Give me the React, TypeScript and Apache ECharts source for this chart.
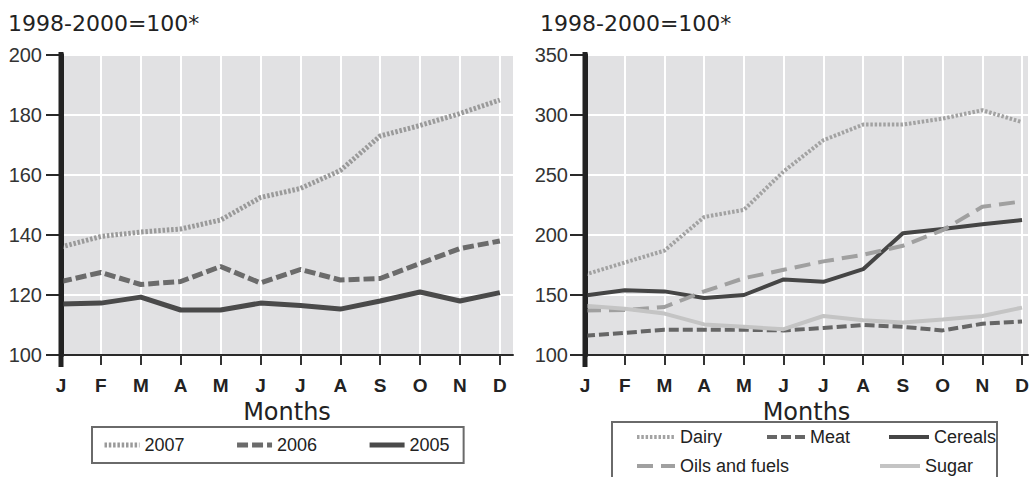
import React, { useEffect, useRef } from 'react';
import * as echarts from 'echarts';

const months = ['J', 'F', 'M', 'A', 'M', 'J', 'J', 'A', 'S', 'O', 'N', 'D'];
const monthIdx = [0, 1, 2, 3, 4, 5, 6, 7, 8, 9, 10, 11];

const yearNames = ['2007', '2006', '2005'];
const y2007 = [136, 139.5, 141, 142, 145, 152.5, 155.5, 161.5, 173, 176.5, 180.5, 185];
const y2006 = [124.5, 127.5, 123.5, 124.5, 129.5, 124, 128.5, 125, 125.5, 130.5, 135.5, 138];
const y2005 = [117, 117.3, 119.3, 115, 115, 117.3, 116.5, 115.3, 118, 121, 118, 120.8];

const foodNames = ['Dairy', 'Meat', 'Cereals', 'Oils and fuels', 'Sugar'];
const dairy = [167, 177, 187, 215, 221, 253, 279, 292, 292, 297, 304, 294];
const meat = [116, 118.5, 121, 121, 121, 120.5, 122.5, 125, 123.5, 120.5, 126, 128];
const cereals = [149.5, 154, 153, 147.5, 150, 163, 161, 171.5, 201.5, 205, 209, 212.5];
const oils = [137, 137.5, 140, 153, 164, 171, 178, 183.5, 191, 204, 223.5, 228];
const sugar = [141, 138.5, 134.5, 125.5, 123.5, 121.5, 132.5, 129, 127, 129.5, 132.5, 139.5];

const titleText = '1998-2000=100*';
const xName = 'Months';

const NARROW = "'Liberation Sans', Arial, sans-serif";
const WIDE = "'DejaVu Sans', sans-serif";

const toPts = (arr: number[]) => arr.map((v, i) => [monthIdx[i], v]);

function xAxisCfg(gridIndex: number, max: number) {
  return {
    type: 'value',
    gridIndex,
    min: 0,
    max,
    interval: 1,
    name: xName,
    nameLocation: 'middle',
    nameGap: 42,
    nameTextStyle: { fontFamily: WIDE, fontSize: 24, color: '#222' },
    axisLine: { show: true, onZero: false, lineStyle: { color: '#2a2a2a', width: 2 } },
    axisTick: { show: true, inside: false, length: 10, customValues: monthIdx, lineStyle: { color: '#333', width: 2 } },
    axisLabel: {
      show: true,
      customValues: monthIdx,
      margin: 21,
      fontFamily: NARROW,
      fontWeight: 'bold',
      fontSize: 19,
      color: '#222',
      formatter: (v: number) => {
        const i = Math.round(v);
        return Math.abs(v - i) < 1e-6 && i >= 0 && i < months.length ? months[i] : '';
      },
    },
    splitLine: { show: true, lineStyle: { color: '#ffffff', width: 2 } },
  };
}

function yAxisCfg(gridIndex: number, min: number, max: number, interval: number, margin: number) {
  return {
    type: 'value',
    gridIndex,
    min,
    max,
    interval,
    axisLine: { show: true, onZero: false, lineStyle: { color: '#222', width: 5 } },
    axisTick: { show: true, inside: false, length: 15, lineStyle: { color: '#2a2a2a', width: 2 } },
    axisLabel: { margin, fontFamily: NARROW, fontSize: 20, color: '#333' },
    splitLine: { show: true, lineStyle: { color: '#ffffff', width: 2 } },
  };
}

function lineSeries(name: string, data: number[], gi: number, color: string, width: number, type: any) {
  return {
    name,
    type: 'line',
    xAxisIndex: gi,
    yAxisIndex: gi,
    data: toPts(data),
    symbol: 'none',
    showSymbol: false,
    color,
    lineStyle: { color, width, type },
    z: 3,
  };
}

const legendText = { fontFamily: NARROW, fontSize: 18, color: '#222' };
const legendItemStyle = { opacity: 0 };

function foodLegend(name: string, left: number, top: number, itemWidth: number) {
  return {
    data: [name],
    left,
    top,
    padding: 0,
    itemWidth,
    itemHeight: 10,
    selectedMode: false,
    textStyle: legendText,
    itemStyle: legendItemStyle,
    lineStyle: { width: 4 },
  };
}

export default function App() {
  const ref = useRef<HTMLDivElement>(null);

  useEffect(() => {
    if (!ref.current) return;
    const chart = echarts.init(ref.current, undefined, { renderer: 'svg' });
    const titleStyle = { fontFamily: WIDE, fontSize: 22, fontWeight: 'normal', color: '#222' };
    const option: any = {
      animation: false,
      backgroundColor: '#ffffff',
      title: [
        { text: titleText, left: 8, top: 12, padding: 0, textStyle: titleStyle },
        { text: titleText, left: 540, top: 12, padding: 0, textStyle: titleStyle },
      ],
      grid: [
        { left: 61, right: 516, top: 55, bottom: 122, show: true, backgroundColor: '#e1e1e3', borderWidth: 0, containLabel: false, outerBoundsMode: 'none' },
        { left: 585, right: 1, top: 55, bottom: 122, show: true, backgroundColor: '#e1e1e3', borderWidth: 0, containLabel: false, outerBoundsMode: 'none' },
      ],
      xAxis: [xAxisCfg(0, 11.33), xAxisCfg(1, 11.15)],
      yAxis: [yAxisCfg(0, 100, 200, 20, 19), yAxisCfg(1, 100, 350, 50, 17)],
      legend: [
        {
          data: yearNames,
          left: 92,
          top: 427,
          orient: 'horizontal',
          padding: [9, 14, 9, 10],
          borderColor: '#6a6a6a',
          borderWidth: 2,
          itemWidth: 35,
          itemHeight: 10,
          itemGap: 50,
          selectedMode: false,
          textStyle: legendText,
          itemStyle: legendItemStyle,
          lineStyle: { width: 5 },
        },
        foodLegend(foodNames[0], 635, 428, 38),
        foodLegend(foodNames[1], 765, 428, 38),
        foodLegend(foodNames[2], 887, 428, 40),
        foodLegend(foodNames[3], 635, 457, 38),
        foodLegend(foodNames[4], 878, 457, 40),
      ],
      series: [
        lineSeries(yearNames[0], y2007, 0, '#9a9a9a', 5, [2.5, 1.8]),
        lineSeries(yearNames[1], y2006, 0, '#6b6b6b', 5, [11, 4]),
        lineSeries(yearNames[2], y2005, 0, '#4a4a4a', 5, 'solid'),
        lineSeries(foodNames[0], dairy, 1, '#a2a2a2', 4, [2.5, 1.8]),
        lineSeries(foodNames[1], meat, 1, '#666666', 4, [10, 4]),
        lineSeries(foodNames[2], cereals, 1, '#454545', 4, 'solid'),
        lineSeries(foodNames[3], oils, 1, '#a0a0a0', 4, [16, 8]),
        lineSeries(foodNames[4], sugar, 1, '#c4c4c4', 4, 'solid'),
      ],
    };
    chart.setOption(option);

    // extend the y axis lines slightly beyond the plot, as in the original
    const ext: any[] = [];
    [[0, 200], [1, 350]].forEach(([gi, top]) => {
      const pb = chart.convertToPixel({ gridIndex: gi } as any, [0, 100]) as number[];
      const pt = chart.convertToPixel({ gridIndex: gi } as any, [0, top]) as number[];
      if (pb && pt) {
        ext.push({
          type: 'line',
          z: 10,
          shape: { x1: pb[0], y1: pt[1] - 3, x2: pb[0], y2: pb[1] + 12 },
          style: { stroke: '#222', lineWidth: 5 },
        });
      }
    });
    ext.push({
      type: 'rect',
      z: 10,
      shape: { x: 612, y: 422, width: 385, height: 80 },
      style: { fill: 'none', stroke: '#6a6a6a', lineWidth: 2 },
    });
    chart.setOption({ graphic: ext });

    return () => chart.dispose();
  }, []);

  return (
    <div
      ref={ref}
      style={{ position: 'absolute', left: 0, top: 0, width: 1029, height: 477, background: '#fff' }}
    />
  );
}
